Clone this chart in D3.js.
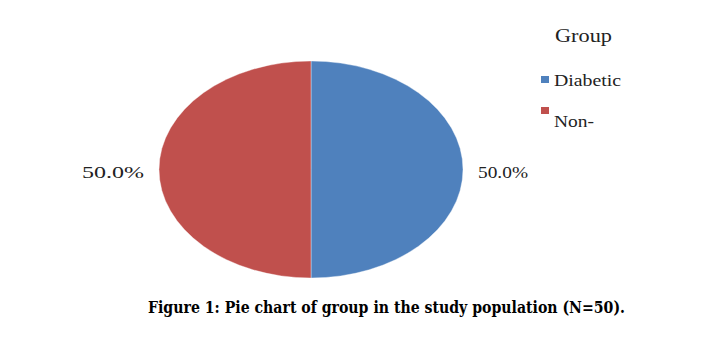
<!DOCTYPE html>
<html><head><meta charset="utf-8">
<script src="https://cdn.jsdelivr.net/npm/d3@7"></script>
<style>body{margin:0;background:#fff}</style>
</head><body>
<svg id="c" width="728" height="341"></svg>
<script>
const categories = ["Diabetic", "Non-"];
const values = [50, 50];
const colors = ["#4f81bd", "#c0504d"];
const legendTitle = "Group";
const caption = "Figure 1: Pie chart of group in the study population (N=50).";

const svg = d3.select("#c");
const cx = 311, cy = 169.5, rx = 152, ry = 108.5;
const total = d3.sum(values);
const pie = d3.pie().sort(null).value(d => d)(values);
const arc = d3.arc().innerRadius(0).outerRadius(ry);
const color = d3.scaleOrdinal().domain(categories).range(colors);

const g = svg.append("g").attr("transform", `translate(${cx},${cy}) scale(${rx/ry},1)`);
g.selectAll("path").data(pie).enter().append("path")
  .attr("d", arc)
  .attr("fill", (d,i) => color(categories[i]))
  .attr("stroke", "#ffffff").attr("stroke-width", 0.6).attr("stroke-opacity", 0.5);

// labels
pie.forEach((d,i) => {
  const a = (d.startAngle + d.endAngle) / 2;
  const sx = Math.sin(a), sy = -Math.cos(a);
  const x = cx + sx * (rx + 15);
  const y = cy + sy * (ry + 15) + 8;
  svg.append("text").attr("x", sx >= 0 ? x : x - 62).attr("y", y)
    .attr("font-family", "Liberation Serif, serif").attr("font-size", 16).attr("fill", "#222")
    .attr("textLength", sx >= 0 ? 50 : 62).attr("lengthAdjust", "spacingAndGlyphs")
    .text((values[i] / total * 100).toFixed(1) + "%");
});

// legend
svg.append("text").attr("x", 555).attr("y", 42)
  .attr("font-family", "Liberation Serif, serif").attr("font-size", 18).attr("fill", "#222")
  .attr("textLength", 57).attr("lengthAdjust", "spacingAndGlyphs")
  .text(legendTitle);
const ly = [80, 111];
const lw = [67, 40];
categories.forEach((c,i) => {
  svg.append("rect").attr("x", 541).attr("y", ly[i] - 4).attr("width", 8).attr("height", 7).attr("fill", color(c));
  svg.append("text").attr("x", 554).attr("y", ly[i] + 6 + i * 10)
    .attr("font-family", "Liberation Serif, serif").attr("font-size", 16).attr("fill", "#222")
    .attr("textLength", lw[i]).attr("lengthAdjust", "spacingAndGlyphs")
    .text(c);
});

// caption
svg.append("text").attr("x", 386.5).attr("y", 313).attr("text-anchor", "middle")
  .attr("font-family", "DejaVu Serif, serif").attr("font-weight", "bold").attr("font-size", 17).attr("fill", "#000")
  .attr("textLength", 477).attr("lengthAdjust", "spacingAndGlyphs")
  .text(caption);
</script>
</body></html>
